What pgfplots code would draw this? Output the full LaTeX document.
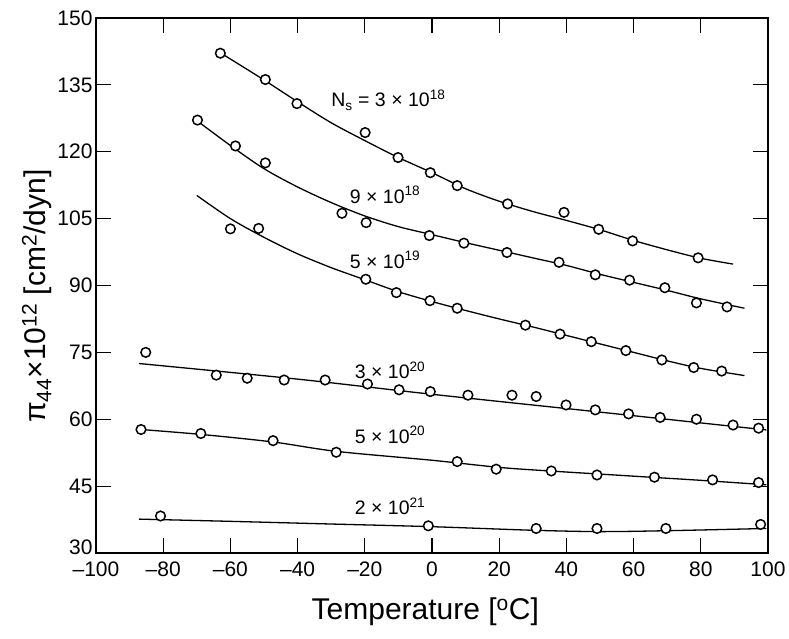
\documentclass[border=0pt]{standalone}
\usepackage{fontspec}
\setmainfont{Liberation Sans}
\usepackage{pgfplots}
\pgfplotsset{compat=1.18}

\pgfplotsset{
  fit/.style={black, line width=1.3pt, smooth, no markers},
  pts/.style={only marks, mark=*, mark size=4.8pt,
    mark options={fill=white, draw=black, line width=1.5pt}},
}
\tikzset{lab/.style={anchor=west, font=\fontsize{19.5}{22}\selectfont}}

\begin{document}
\begin{tikzpicture}
\begin{axis}[
  scale only axis, width=672pt, height=535pt,
  xmin=-100, xmax=100, ymin=30, ymax=150,
  xtick={-100,-80,...,100},
  xticklabels={\textendash100,\textendash80,\textendash60,\textendash40,\textendash20,0,20,40,60,80,100},
  ytick={45,60,...,150},
  extra y ticks={30},
  extra y tick style={yticklabel style={yshift=6pt}},
  tick align=inside, major tick length=15pt,
  axis line style={line width=1.4pt},
  tick style={line width=1.2pt, black},
  tick label style={font=\fontsize{21}{23}\selectfont},
  xticklabel style={yshift=-5pt},
  /pgf/number format/assume math mode=true,
  xlabel={Temperature [\textsuperscript{o}C]},
  ylabel={π\textsubscript{44}×10\textsuperscript{12} [cm\textsuperscript{2}/dyn]},
  label style={font=\fontsize{30}{34}\selectfont},
  xlabel style={at={(axis description cs:0.49,-0.11)}, anchor=center},
  ylabel style={at={(axis description cs:-0.088,0.48)}, anchor=center},
]
% N_s = 3e18
\addplot[fit] coordinates {(-63,142.2)(-50,136.1)(-40,131.2)(-30,126.5)(-20,122.5)(-10,118.7)(0,115.3)(10,111.7)(20,108.9)(30,106.6)(40,104.6)(50,102.5)(60,100.1)(70,98.0)(80,96.1)(89.6,94.8)};
\addplot[pts] coordinates {(-63,142.1)(-49.6,136.2)(-40.2,130.8)(-19.9,124.3)(-10.1,118.7)(-0.5,115.3)(7.5,112.4)(22.5,108.3)(39.3,106.4)(49.6,102.6)(59.7,100.0)(79.2,96.2)};
% 9e18
\addplot[fit] coordinates {(-70,127.0)(-60,121.4)(-50,116.2)(-40,112.1)(-30,108.6)(-20,105.6)(-10,103.2)(0,101.4)(10,99.6)(20,97.9)(30,96.2)(40,94.5)(50,92.5)(60,90.7)(70,88.9)(80,87.0)(93,84.9)};
\addplot[pts] coordinates {(-69.8,127.1)(-58.5,121.3)(-49.6,117.5)(-26.8,106.2)(-19.6,104.1)(-0.8,101.2)(9.5,99.5)(22.3,97.4)(37.8,95.2)(48.6,92.4)(58.8,91.2)(69.3,89.5)(78.7,86.1)(87.8,85.2)};
% 5e19
\addplot[fit] coordinates {(-70,110.2)(-60,105.0)(-50,100.8)(-40,97.1)(-30,94.0)(-20,91.3)(-10,88.6)(0,86.4)(10,84.4)(20,82.5)(30,80.7)(40,78.8)(50,76.9)(60,75.0)(70,73.1)(80,71.4)(93,69.8)};
\addplot[pts] coordinates {(-60.0,102.7)(-51.6,102.8)(-19.7,91.4)(-10.6,88.4)(-0.6,86.6)(7.5,84.9)(27.8,81.1)(38.1,79.1)(47.4,77.4)(57.7,75.4)(68.4,73.3)(77.9,71.6)(86.2,70.8)};
% 3e20
\addplot[fit] coordinates {(-87.2,72.5)(-40,69.0)(0,65.6)(50,61.6)(99.5,57.6)};
\addplot[pts] coordinates {(-85.2,75.0)(-64.2,69.9)(-55.0,69.2)(-44.0,68.8)(-31.8,68.8)(-19.2,67.9)(-9.8,66.6)(-0.5,66.2)(10.7,65.4)(23.8,65.4)(31.0,65.1)(39.9,63.2)(48.6,62.1)(58.5,61.2)(67.9,60.4)(78.7,60.0)(89.6,58.7)(97.2,58.0)};
% 5e20
\addplot[fit] coordinates {(-86.6,57.7)(-68.8,56.6)(-47.3,54.9)(-28.5,52.8)(0,50.8)(20,49.2)(35,48.4)(50,47.7)(65,47.0)(80,46.3)(99.5,45.3)};
\addplot[pts] coordinates {(-86.6,57.7)(-68.8,56.8)(-47.3,55.2)(-28.5,52.6)(7.5,50.5)(19.1,48.8)(35.5,48.4)(49.1,47.5)(66.2,47.0)(83.5,46.4)(97.2,45.8)};
% 2e21
\addplot[fit] coordinates {(-87.2,37.6)(-60,37.1)(-30,36.5)(0,35.9)(30,35.1)(50,34.8)(70,35.0)(99.5,35.5)};
\addplot[pts] coordinates {(-80.8,38.3)(-1.1,36.1)(31.0,35.5)(49.1,35.5)(69.6,35.5)(97.8,36.4)};

\node[lab] at (axis cs:-31,131.6) {N\textsubscript{s} = 3 × 10\textsuperscript{18}};
\node[lab] at (axis cs:-25.5,110.3) {9 × 10\textsuperscript{18}};
\node[lab] at (axis cs:-25.5,95.7) {5 × 10\textsuperscript{19}};
\node[lab] at (axis cs:-24,71.0) {3 × 10\textsuperscript{20}};
\node[lab] at (axis cs:-24,56.5) {5 × 10\textsuperscript{20}};
\node[lab] at (axis cs:-24,40.5) {2 × 10\textsuperscript{21}};
\end{axis}
\pgfresetboundingbox
\path ([shift={(-96pt,-86pt)}]current axis.south west) rectangle ([shift={(21pt,18pt)}]current axis.north east);
\end{tikzpicture}
\end{document}
